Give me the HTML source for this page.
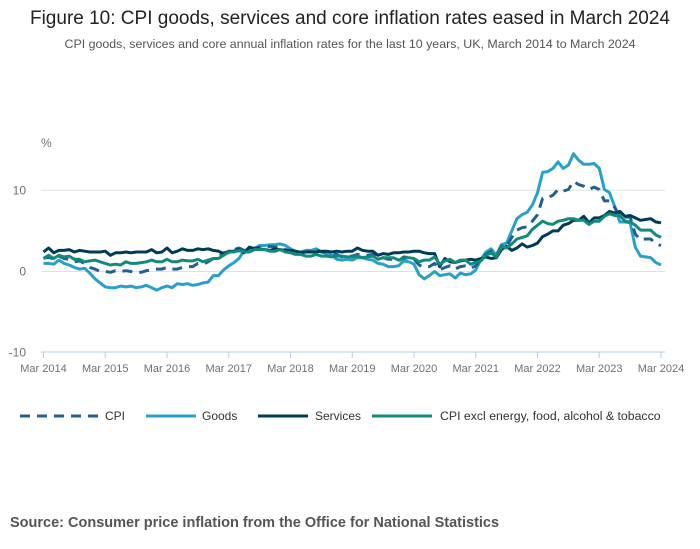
<!DOCTYPE html>
<html><head><meta charset="utf-8"><style>
body{margin:0;background:#fff;font-family:"Liberation Sans",sans-serif;}
#wrap{position:relative;width:700px;height:549px;overflow:hidden;}
</style></head><body>
<div id="wrap">
<svg id="chart" width="700" height="549" style="position:absolute;left:0;top:0">
<text x="350" y="24" text-anchor="middle" font-size="19" fill="#222">Figure 10: CPI goods, services and core inflation rates eased in March 2024</text>
<text x="350" y="48" text-anchor="middle" font-size="12.4" fill="#555">CPI goods, services and core annual inflation rates for the last 10 years, UK, March 2014 to March 2024</text>
<text x="41" y="147" font-size="12" fill="#707070">%</text>
<g id="grid"></g><g id="series"></g>
<g>
<g><line x1="20" y1="416" x2="100" y2="416" stroke="#206095" stroke-width="3" stroke-dasharray="10,7"/><text x="105" y="420" font-size="12" fill="#333">CPI</text></g>
<g><line x1="146" y1="416" x2="196" y2="416" stroke="#27a0cc" stroke-width="3"/><text x="202" y="420" font-size="12" fill="#333">Goods</text></g>
<g><line x1="258" y1="416" x2="308" y2="416" stroke="#003c57" stroke-width="3"/><text x="315" y="420" font-size="12" fill="#333">Services</text></g>
<g><line x1="372" y1="416" x2="432" y2="416" stroke="#118c7b" stroke-width="3"/><text x="440" y="420" font-size="12.3" fill="#333">CPI excl energy, food, alcohol &amp; tobacco</text></g>
</g>
<text x="10" y="527" font-size="14.5" font-weight="bold" fill="#555">Source: Consumer price inflation from the Office for National Statistics</text>
</svg>
</div>
<script>
const yearLabels=["Mar 2014","Mar 2015","Mar 2016","Mar 2017","Mar 2018","Mar 2019","Mar 2020","Mar 2021","Mar 2022","Mar 2023","Mar 2024"];
const yTicks=[10,0,-10];
const cpi=[1.6,1.8,1.5,1.9,1.6,1.5,1.2,1.3,1.0,0.5,
0.3,0.0,0.0,-0.1,0.1,0.0,0.1,0.0,-0.1,-0.1,0.1,0.2,
0.3,0.3,0.5,0.3,0.3,0.5,0.6,0.6,1.0,0.9,1.2,1.6,
1.8,2.3,2.3,2.7,2.9,2.6,2.6,2.9,3.0,3.0,3.1,3.0,
3.0,2.7,2.5,2.4,2.4,2.4,2.5,2.7,2.4,2.4,2.3,2.1,
1.8,1.9,1.9,2.1,2.0,2.0,2.1,1.7,1.7,1.5,1.5,1.3,
1.8,1.7,1.5,0.8,0.5,0.6,1.0,0.2,0.5,0.7,0.3,0.6,
0.7,0.4,0.7,1.5,2.1,2.5,2.0,3.2,3.1,4.2,5.1,5.4,
5.5,6.2,7.0,9.0,9.1,9.4,10.1,9.9,10.1,11.1,10.7,10.5,
10.1,10.4,10.1,8.7,8.7,7.9,6.8,6.7,6.7,4.6,3.9,4.0,
4.0,3.4,3.2];
const goods=[1.0,1.0,0.9,1.4,1.0,0.8,0.5,0.3,0.4,-0.2,
-0.9,-1.4,-1.9,-2.0,-2.0,-1.8,-1.9,-1.8,-2.0,-1.9,-1.7,-2.0,
-2.3,-2.0,-1.8,-2.0,-1.5,-1.6,-1.5,-1.7,-1.6,-1.4,-1.3,-0.5,
-0.5,0.2,0.7,1.1,1.6,2.6,2.7,2.8,3.2,3.2,3.3,3.3,
3.4,3.2,2.8,2.5,2.4,2.6,2.6,2.8,2.4,2.2,2.0,1.5,
1.4,1.5,1.4,1.7,1.7,1.5,1.4,1.0,0.9,0.6,0.6,0.7,
1.3,1.2,0.9,-0.4,-0.9,-0.5,0.0,-0.5,-0.4,-0.3,-0.8,-0.2,
-0.4,-0.3,0.2,1.5,2.4,2.8,2.0,3.3,3.5,5.0,6.5,7.0,
7.3,8.2,9.7,12.2,12.3,12.7,13.5,12.7,13.1,14.5,13.7,13.2,
13.2,13.3,12.7,10.1,9.7,8.0,6.1,6.1,6.0,3.0,1.9,1.8,
1.7,1.1,0.8];
const services=[2.4,2.9,2.3,2.6,2.6,2.7,2.4,2.6,2.5,2.4,
2.4,2.4,2.5,2.0,2.3,2.3,2.4,2.3,2.4,2.4,2.4,2.7,
2.3,2.4,2.9,2.3,2.5,2.8,2.6,2.6,2.8,2.7,2.8,2.6,
2.5,2.2,2.5,2.5,2.7,2.3,3.0,2.8,2.8,2.7,2.6,2.8,
2.7,2.6,2.6,2.5,2.3,2.4,2.4,2.4,2.5,2.5,2.4,2.5,
2.4,2.5,2.5,2.9,2.6,2.5,2.5,2.0,2.2,2.1,2.3,2.3,
2.4,2.4,2.5,2.5,2.3,2.2,2.2,0.6,1.6,1.2,1.1,1.3,
1.4,1.5,1.4,1.6,1.8,1.6,1.7,2.7,3.1,2.6,2.9,3.4,
3.0,3.2,3.5,4.3,4.6,5.0,5.0,5.7,5.9,6.3,6.3,6.8,
6.0,6.6,6.6,6.9,7.4,7.2,7.4,6.8,6.9,6.6,6.3,6.4,
6.5,6.1,6.0];
const core=[1.6,2.0,1.6,2.0,1.8,1.9,1.5,1.5,1.2,1.3,
1.4,1.2,1.0,0.8,0.9,0.8,1.2,1.0,1.0,1.1,1.2,1.4,
1.2,1.2,1.5,1.2,1.2,1.4,1.3,1.3,1.5,1.2,1.4,1.6,
1.6,2.0,2.4,2.4,2.6,2.4,2.4,2.7,2.7,2.7,2.5,2.5,
2.7,2.4,2.3,2.1,2.1,1.9,1.9,2.1,1.9,1.9,1.8,1.9,
1.9,1.8,1.8,1.9,1.7,1.8,1.9,1.5,1.7,1.7,1.7,1.4,
1.6,1.7,1.6,1.2,1.4,1.4,1.8,0.9,1.3,1.5,1.1,1.4,
1.4,0.9,1.1,1.3,2.0,2.3,1.8,3.1,2.9,3.4,4.0,4.2,
4.4,5.2,5.7,6.2,5.9,5.8,6.2,6.3,6.5,6.5,6.3,6.3,
5.8,6.2,6.2,6.8,7.1,6.9,6.9,6.2,6.1,5.7,5.1,5.1,
5.1,4.5,4.2];
const NS="http://www.w3.org/2000/svg";
const X0=43.5,X1=661,Y0=271.5,PU=8.12;
function xScale(i){return X0+(X1-X0)*i/120;}
function yScale(v){return Y0-v*PU;}
const grid=document.getElementById('grid');
yTicks.forEach(t=>{
  const y=yScale(t);
  if(t!==-10){const l=document.createElementNS(NS,'line');
  
  
  l.setAttribute('x1',41);l.setAttribute('x2',665);l.setAttribute('y1',y);l.setAttribute('y2',y);
  l.setAttribute('stroke','#e0e0e0');l.setAttribute('stroke-width','1');grid.appendChild(l);}
  const tx=document.createElementNS(NS,'text');
  
  
  tx.setAttribute('x',26);tx.setAttribute('y',y+4);tx.setAttribute('text-anchor','end');
  tx.setAttribute('font-size','12');tx.setAttribute('fill','#707070');tx.textContent=t;grid.appendChild(tx);
});
const ax=document.createElementNS(NS,'line');


ax.setAttribute('x1',41);ax.setAttribute('x2',665);ax.setAttribute('y1',352);ax.setAttribute('y2',352);
ax.setAttribute('stroke','#b8cde0');grid.appendChild(ax);
yearLabels.forEach((lab,k)=>{
  const x=xScale(k*12);
  const t=document.createElementNS(NS,'line');
  
  
  t.setAttribute('x1',x);t.setAttribute('x2',x);t.setAttribute('y1',352);t.setAttribute('y2',358);
  t.setAttribute('stroke','#b8cde0');grid.appendChild(t);
  const tx=document.createElementNS(NS,'text');
  
  
  tx.setAttribute('x',x);tx.setAttribute('y',372);tx.setAttribute('text-anchor','middle');
  tx.setAttribute('font-size','11');tx.setAttribute('fill','#707070');tx.textContent=lab;grid.appendChild(tx);
});
const sg=document.getElementById('series');
function draw(arr,color,name,dash){
  const p=document.createElementNS(NS,'path');
  
  
  p.setAttribute('d',arr.map((v,i)=>(i?'L':'M')+xScale(i).toFixed(1)+','+yScale(v).toFixed(1)).join(''));
  p.setAttribute('fill','none');p.setAttribute('stroke',color);p.setAttribute('stroke-width','3');
  p.setAttribute('stroke-linejoin','round');
  if(dash)p.setAttribute('stroke-dasharray',dash);
  sg.appendChild(p);
}
draw(goods,'#27a0cc','goods-line');
draw(cpi,'#206095','cpi-line','10,7');
draw(services,'#003c57','services-line');
draw(core,'#118c7b','core-line');
</script>
</body></html>
